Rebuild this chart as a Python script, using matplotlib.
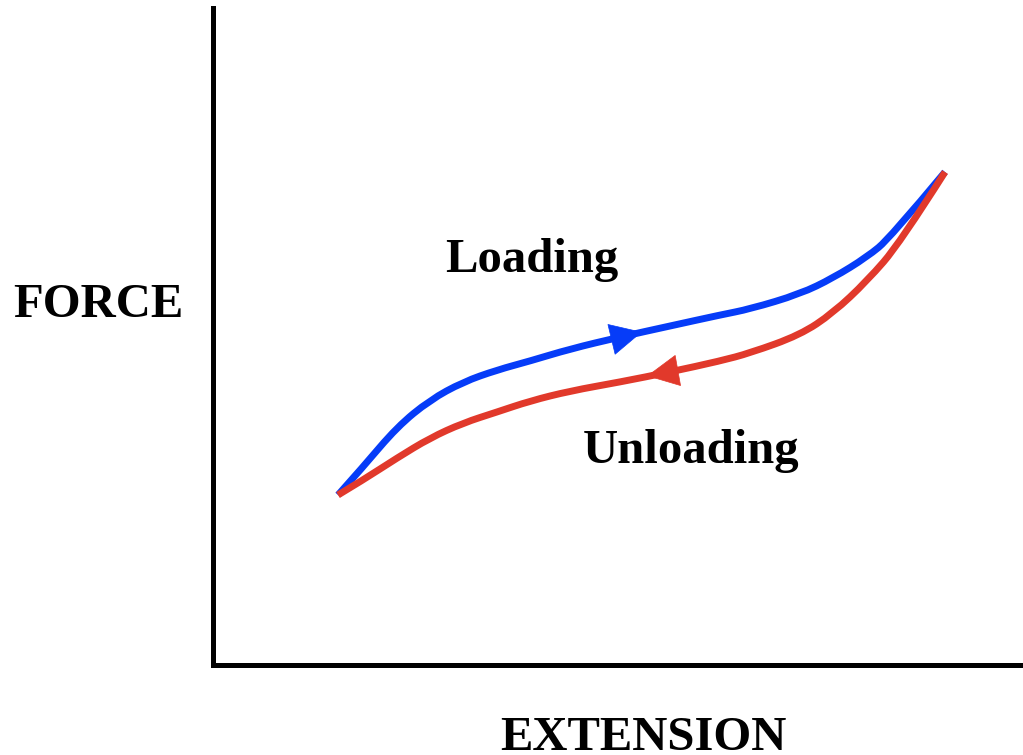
import matplotlib.pyplot as plt
from matplotlib.path import Path
from matplotlib.patches import PathPatch

# curve values (extension, force in arbitrary units)
ext_load = [125, 150, 184, 217, 250, 284, 317, 357, 407, 457, 507, 537, 587, 620, 654, 677, 732]
force_load = [170, 198, 238, 265, 283, 295, 304, 316, 328, 339, 350, 356, 371, 387, 408, 427, 493]

ext_unload = [125, 150, 184, 217, 250, 284, 317, 357, 407, 457, 507, 537, 587, 620, 654, 687, 732]
force_unload = [170, 185, 207, 227, 242, 253, 264, 274, 283, 293, 304, 312, 330, 352, 384, 422, 493]

blue = '#063cf8'
red = '#e1392b'


def smooth_path(xs, ys):
    # quadratic segments through the midpoints, the read points act as control points
    pts = list(zip(xs, ys))
    verts = [pts[0]]
    codes = [Path.MOVETO]
    for i in range(1, len(pts) - 1):
        if i == len(pts) - 2:
            end = pts[-1]
        else:
            end = ((pts[i][0] + pts[i + 1][0]) / 2, (pts[i][1] + pts[i + 1][1]) / 2)
        verts += [pts[i], end]
        codes += [Path.CURVE3, Path.CURVE3]
    return Path(verts, codes)


fig = plt.figure(figsize=(10.23, 7.55), dpi=100)
ax = fig.add_axes([213 / 1023, 90 / 755, 810 / 1023, 657 / 755])

ax.add_patch(PathPatch(smooth_path(ext_load, force_load), fill=False, edgecolor=blue,
                       lw=5, capstyle='butt'))
ax.add_patch(PathPatch(smooth_path(ext_unload, force_unload), fill=False, edgecolor=red,
                       lw=5, capstyle='butt'))

# direction arrows
ax.annotate('', xy=(429, 333), xytext=(400, 326),
            arrowprops=dict(arrowstyle='-|>', color=blue, lw=0.5, mutation_scale=55,
                            shrinkA=0, shrinkB=0))
ax.annotate('', xy=(434, 289), xytext=(462, 294),
            arrowprops=dict(arrowstyle='-|>', color=red, lw=0.5, mutation_scale=55,
                            shrinkA=0, shrinkB=0))

ax.set_xlim(0, 810)
ax.set_ylim(0, 657)
ax.set_xticks([])
ax.set_yticks([])
for s in ['top', 'right']:
    ax.spines[s].set_visible(False)
for s in ['left', 'bottom']:
    ax.spines[s].set_linewidth(3.6)
    ax.spines[s].set_capstyle('projecting')

font = dict(family='Liberation Serif', weight='bold', size=35)
fig.text(13 / 1023, 1 - 317 / 755, 'FORCE', ha='left', va='baseline', **font)
fig.text(643 / 1023, 1 - 750 / 755, 'EXTENSION', ha='center', va='baseline', **font)
fig.text(445 / 1023, 1 - 272 / 755, 'Loading', ha='left', va='baseline', **font)
fig.text(583 / 1023, 1 - 463 / 755, 'Unloading', ha='left', va='baseline', **font)

fig.savefig('out.png', dpi=100)
